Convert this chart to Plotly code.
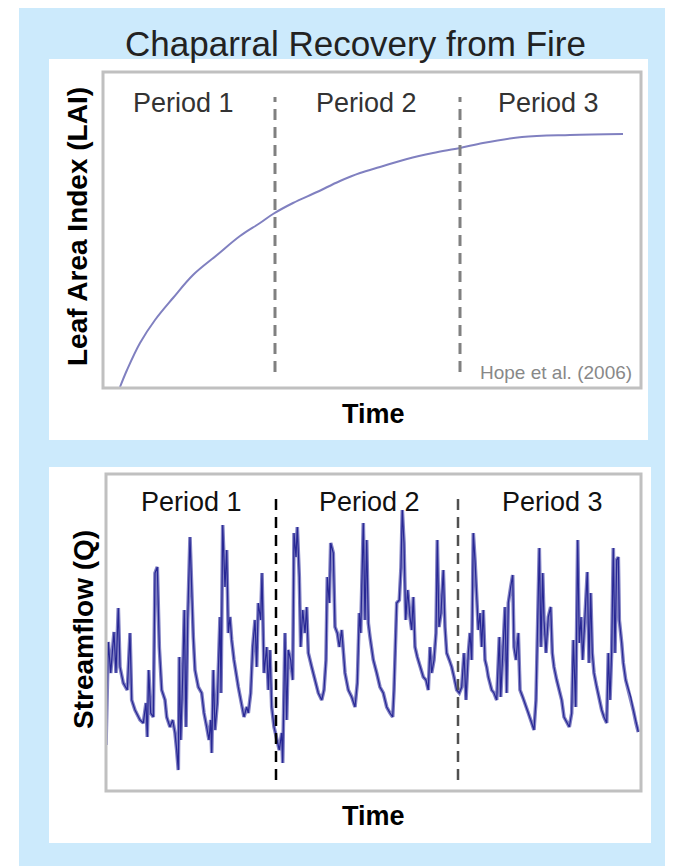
import plotly.graph_objects as go

W, H = 665, 858

# ---------------- data ----------------
# Top panel: leaf area index recovery curve (arbitrary LAI units)
lai_time = [17, 24, 37, 52, 70, 90, 114, 137, 157, 170, 190, 214, 237, 257, 277,
            304, 330, 357, 380, 419, 467, 520]
lai_value = [0.01, 0.18, 0.45, 0.68, 0.90, 1.13, 1.33, 1.52, 1.65, 1.74, 1.85, 1.96,
             2.07, 2.15, 2.21, 2.29, 2.35, 2.40, 2.45, 2.51, 2.53, 2.54]
lai_period_bounds = [172, 357]

# Bottom panel: streamflow series (arbitrary units)
q_time = [0, 2.3, 4.7, 8, 10, 12.3, 14, 17.3, 21.3, 24, 25.7, 29, 34, 37.3, 40, 41.3,
          42.7, 44.7, 47.3, 49, 51.3, 53.3, 55.7, 59, 60.7, 64, 66.7, 69, 70.7, 72.3,
          73.3, 74.7, 76.7, 78.3, 80, 81.7, 84, 85.7, 87.3, 89, 92.3, 95.7, 98, 100.7,
          103, 104.7, 105.7, 107.3, 109, 111.3, 114, 115, 116.7, 119, 120.7, 122.3, 124,
          125.7, 128, 132.3, 135.7, 138, 140.7, 142.3, 144.7, 146.7, 149, 150.7, 152.3,
          154.7, 156, 158, 160.7, 162.3, 164, 165.7, 168, 170.7, 173.3, 175.7, 176.7,
          179, 180.7, 182.3, 184.7, 186.7, 188, 190, 191.3, 193.3, 194.7, 196.7, 199,
          200.7, 202.3, 205.7, 209, 212.3, 215.7, 218, 220, 221.3, 223.3, 224.7, 227.3,
          229, 231.3, 233.3, 235.7, 239, 242.3, 245.7, 249, 251.3, 253.3, 254.7, 257.3,
          259, 260.7, 262.3, 264, 265.7, 267.3, 270.7, 274, 277.3, 280.7, 284, 286.7,
          288, 290.7, 293.3, 295, 296.3, 298, 299.7, 301.7, 304, 305.7, 307.3, 309,
          311.3, 314, 317.3, 320, 322.3, 324, 325.7, 328, 330, 331.3, 333, 335, 337.3,
          339, 340.7, 343.3, 345.7, 348, 350.7, 353.3, 355.7, 358, 360, 362.3, 364,
          365.7, 367.3, 369, 370.7, 372.3, 374, 375.7, 377.3, 379, 380.7, 382.3, 385.7,
          388, 390.7, 393.3, 394.7, 396.7, 399, 400.7, 402.3, 404.7, 406.7, 408, 410,
          412.3, 414, 416.7, 419, 422.3, 425.7, 428, 430, 431.3, 433.3, 435, 436.7, 438,
          440, 442.3, 444.7, 446.3, 448, 450.7, 453, 455.7, 458, 460.7, 463.3, 465.7,
          467.3, 469.7, 471.7, 473.3, 475, 476.7, 479, 481.3, 483, 484.7, 486.3, 488,
          490.7, 493.3, 495.7, 498, 500.7, 502.3, 504, 505.7, 507.3, 509, 510.7, 512.3,
          513.3, 515.7, 517.3, 519.7, 522.3, 524.7, 527.3, 530, 532.3]
q_value = [46, 149, 118, 159, 118, 183, 124, 108, 101, 158, 91, 81, 71, 68, 88, 54,
           121, 78, 74, 218, 224, 144, 101, 91, 74, 64, 71, 58, 41, 21,
           134, 51, 114, 181, 64, 171, 254, 188, 154, 121, 104, 98, 78, 64,
           51, 71, 38, 121, 61, 88, 174, 98, 266, 204, 241, 158, 174,
           151, 131, 104, 88, 74, 84, 78, 98, 144, 171, 124, 188,
           171, 218, 118, 144, 101, 141, 84, 64, 51, 41, 58, 28,
           158, 71, 141, 131, 111, 258, 234, 264, 214, 144, 181, 158,
           184, 138, 124, 111, 98, 91, 101, 131, 214, 188, 248, 238,
           164, 158, 144, 161, 118, 101, 94, 84, 108, 178, 158, 268,
           171, 251, 168, 154, 144, 131, 118, 104, 98, 84, 78, 74,
           101, 188, 191, 224, 281, 248, 171, 201, 174, 161, 194, 144,
           134, 124, 114, 111, 101, 144, 118, 131, 158, 251, 164, 178, 221,
           164, 138, 131, 124, 114, 101, 98, 104, 138, 91, 138, 158,
           131, 258, 231, 191, 161, 178, 144, 181, 131, 124, 114, 101,
           98, 91, 154, 94, 131, 184, 98, 188, 204, 216, 144, 131,
           158, 101, 94, 88, 78, 68, 61, 91, 154, 243, 144, 218, 171,
           138, 174, 184, 138, 124, 111, 101, 91, 74, 68, 64, 78,
           151, 84, 251, 148, 174, 131, 178, 219, 128, 198, 138, 118,
           104, 91, 81, 74, 68, 138, 91, 141, 243, 138, 231, 234,
           171, 148, 128, 111, 101, 94, 81, 68, 59]
q_period_bounds = [170, 352]

period_labels = ["Period 1", "Period 2", "Period 3"]
title_text = "Chaparral Recovery from Fire"
top_ylabel = "Leaf Area Index (LAI)"
bottom_ylabel = "Streamflow (Q)"
xlabel = "Time"
credit = "Hope et al. (2006)"

# ---------------- layout helpers ----------------
# page body adds an 8px offset; positions below are measured in page pixels
OFF = 8

def px(x):
    return (x - OFF) / W

def py(y):
    return 1 - (y - OFF) / H

FONT = "Liberation Sans, Arial, sans-serif"
BLUE_BG = "#cceafc"
FRAME = "#c0c0c0"

fig = go.Figure()

fig.add_trace(go.Scatter(x=lai_time, y=lai_value, mode="lines",
                         line=dict(color="#8080c0", width=2, shape="spline", smoothing=1.0),
                         xaxis="x", yaxis="y", hoverinfo="skip", showlegend=False))

fig.add_trace(go.Scatter(x=q_time, y=q_value, mode="lines",
                         line=dict(color="#8282c4", width=3.6),
                         xaxis="x2", yaxis="y2", hoverinfo="skip", showlegend=False))
fig.add_trace(go.Scatter(x=q_time, y=q_value, mode="lines",
                         line=dict(color="rgba(0,0,128,0.7)", width=1.2),
                         xaxis="x2", yaxis="y2", hoverinfo="skip", showlegend=False))

ax_common = dict(showgrid=False, zeroline=False, showticklabels=False, ticks="",
                 showline=False, fixedrange=True)

fig.update_layout(
    width=W, height=H,
    margin=dict(l=0, r=0, t=0, b=0),
    paper_bgcolor="white",
    plot_bgcolor="rgba(0,0,0,0)",
    showlegend=False,
    xaxis=dict(domain=[px(103), px(641)], range=[0, 538], anchor="y", **ax_common),
    yaxis=dict(domain=[py(388), py(72)], range=[0, 3.16], anchor="x", **ax_common),
    xaxis2=dict(domain=[px(106), px(641)], range=[0, 535], anchor="y2", **ax_common),
    yaxis2=dict(domain=[py(791), py(474)], range=[0, 317], anchor="x2", **ax_common),
)

shapes = []
# light blue background
shapes.append(dict(type="rect", xref="paper", yref="paper", x0=px(19), x1=1, y0=0, y1=1,
                   fillcolor=BLUE_BG, line=dict(width=0), layer="below"))
# white panels
shapes.append(dict(type="rect", xref="paper", yref="paper", x0=px(49), x1=px(648), y0=py(440), y1=py(59),
                   fillcolor="white", line=dict(width=0), layer="below"))
shapes.append(dict(type="rect", xref="paper", yref="paper", x0=px(49), x1=px(651), y0=py(843), y1=py(467),
                   fillcolor="white", line=dict(width=0), layer="below"))
# frames
shapes.append(dict(type="rect", xref="paper", yref="paper", x0=px(103), x1=px(641), y0=py(388), y1=py(72),
                   line=dict(color=FRAME, width=3), layer="above"))
shapes.append(dict(type="rect", xref="paper", yref="paper", x0=px(106), x1=px(641), y0=py(791), y1=py(474),
                   line=dict(color=FRAME, width=3), layer="above"))
# period dividers
for t in lai_period_bounds:
    shapes.append(dict(type="line", xref="x", yref="y domain", x0=t, x1=t, y0=0.051, y1=0.921,
                       line=dict(color="#808080", width=3, dash="11px,7px")))
for t, c in zip(q_period_bounds, ["#000000", "#505050"]):
    shapes.append(dict(type="line", xref="x2", yref="y2 domain", x0=t, x1=t, y0=0.035, y1=0.943,
                       line=dict(color=c, width=2.5, dash="11px,7px")))
fig.update_layout(shapes=shapes)

ann = []
def text(x, y, s, size, color="#000", bold=False, angle=0, xanchor="center"):
    ann.append(dict(x=px(x), y=py(y), xref="paper", yref="paper", text=("<b>%s</b>" % s) if bold else s,
                    showarrow=False, xanchor=xanchor, yanchor="middle", textangle=angle,
                    font=dict(family=FONT, size=size, color=color)))

text(355, 43, title_text, 35, "#222222")
for cx, lab in zip([183, 366, 548], period_labels):
    text(cx, 103, lab, 27, "#333333")
for cx, lab in zip([191, 370, 552], period_labels):
    text(cx, 502, lab, 27, "#111111")
text(78, 227, top_ylabel, 28, "#000000", bold=True, angle=-90)
text(83, 630, bottom_ylabel, 28, "#000000", bold=True, angle=-90)
text(373, 414, xlabel, 27, "#000000", bold=True)
text(373, 816, xlabel, 27, "#000000", bold=True)
text(556, 372, credit, 19, "#888888")
fig.update_layout(annotations=ann)

fig.write_html("out.html")
